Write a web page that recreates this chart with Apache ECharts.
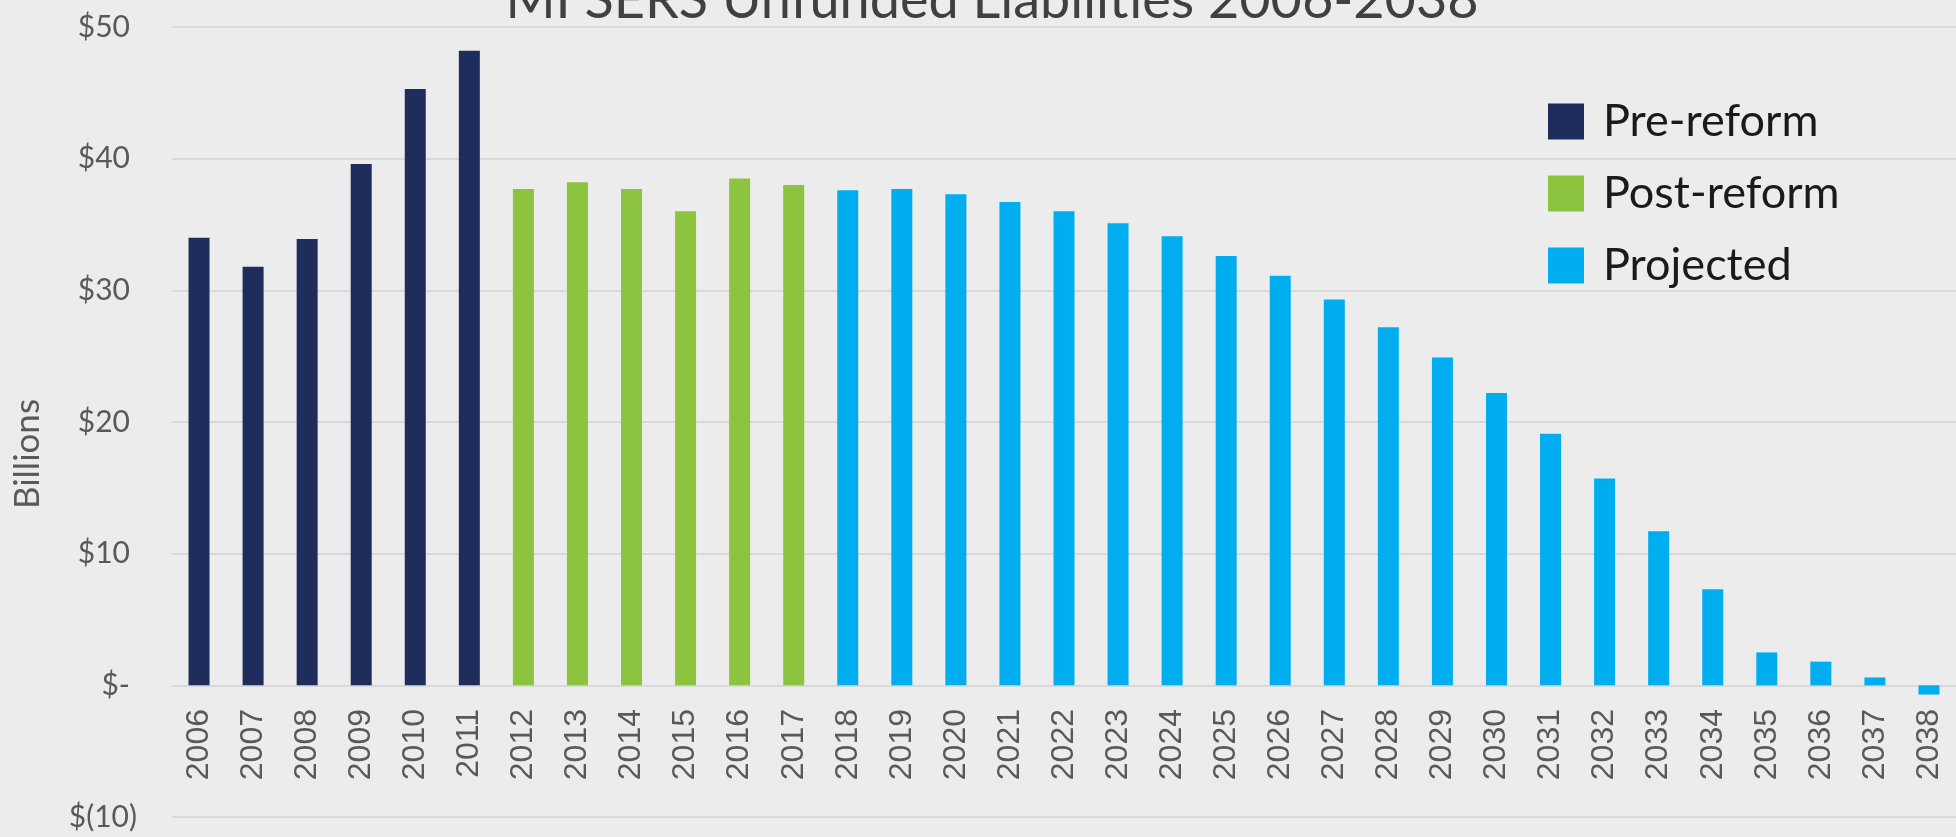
<!DOCTYPE html>
<html>
<head>
<meta charset="utf-8">
<script src="https://cdn.jsdelivr.net/npm/echarts@6/dist/echarts.min.js"></script>
<style>
html,body{margin:0;padding:0;background:#ECECEC;}
#chart{width:1956px;height:837px;}
</style>
</head>
<body>
<div id="chart"></div>
<script>
const years = ['2006','2007','2008','2009','2010','2011','2012','2013','2014','2015','2016','2017','2018','2019','2020','2021','2022','2023','2024','2025','2026','2027','2028','2029','2030','2031','2032','2033','2034','2035','2036','2037','2038'];
const preReform = [34.0,31.8,33.9,39.6,45.3,48.2];
const postReform = [37.7,38.2,37.7,36.0,38.5,38.0];
const projected = [37.6,37.7,37.3,36.7,36.0,35.1,34.1,32.6,31.1,29.3,27.2,24.9,22.2,19.1,15.7,11.7,7.3,2.5,1.8,0.6,-0.7];
const seriesNames = ['Pre-reform','Post-reform','Projected'];
const yTickValues = [-10,0,10,20,30,40,50];
const yTickLabels = ['$(10)','$-','$10','$20','$30','$40','$50'];
const titleText = 'MI SERS Unfunded Liabilities 2006-2038';
const axisName = 'Billions';

function place(arr, offset){
  return years.map((y,i)=> (i>=offset && i<offset+arr.length) ? arr[i-offset] : null);
}
const preData = place(preReform,0);
const postData = place(postReform,preReform.length);
const projData = place(projected,preReform.length+postReform.length);

const chart = echarts.init(document.getElementById('chart'));
const colors = ['#1F2D5D','#8DC43F','#00AEEF'];
const barW = 21;
chart.setOption({
  backgroundColor:'#ECECEC',
  animation:false,
  color:colors,
  grid:{left:172,right:0,top:27,bottom:20,containLabel:false,outerBoundsMode:'none'},
  legend:{
    orient:'vertical',left:1543,top:94,
    icon:'rect',itemWidth:36,itemHeight:36,itemGap:27,
    textStyle:{fontFamily:'Lato',fontSize:45,color:'#1a1a1a',padding:[0,0,0,14],lineHeight:36},
    data:seriesNames
  },
  graphic:[
    {type:'text',x:0,y:0,style:{text:titleText,x:992,y:28,textAlign:'center',textVerticalAlign:'bottom',fontFamily:'Lato',fontSize:54,fill:'#404040'}},
    {type:'text',x:28,y:454,rotation:Math.PI/2,style:{text:axisName,textAlign:'center',textVerticalAlign:'middle',fontFamily:'Lato',fontSize:35,fill:'#595959'}}
  ],
  xAxis:{
    type:'category',data:years,
    axisLine:{show:false,onZero:false},axisTick:{show:false},
    axisLabel:{rotate:90,margin:-108,fontFamily:'Liberation Sans',fontSize:32,color:'#595959'}
  },
  yAxis:{
    type:'value',min:-10,max:50,interval:10,
    axisLine:{show:false},axisTick:{show:false},
    splitLine:{lineStyle:{color:'#D9D9D9',width:2}},
    axisLabel:{margin:35,fontFamily:'Lato',fontSize:30,color:'#595959',
      rich:{p:{fontFamily:'Lato',fontSize:30,color:'#595959',padding:[0,7,0,0]},n:{fontFamily:'Lato',fontSize:30,color:'#595959'}},
      formatter:function(v){const i=yTickValues.indexOf(v);if(i<0)return '';return v<0?'{n|'+yTickLabels[i]+'}':'{p|'+yTickLabels[i]+'}';}}
  },
  series:[
    {name:seriesNames[0],type:'bar',stack:'s',barWidth:barW,data:preData},
    {name:seriesNames[1],type:'bar',stack:'s',barWidth:barW,data:postData},
    {name:seriesNames[2],type:'bar',stack:'s',barWidth:barW,data:projData}
  ]
});
</script>
</body>
</html>
